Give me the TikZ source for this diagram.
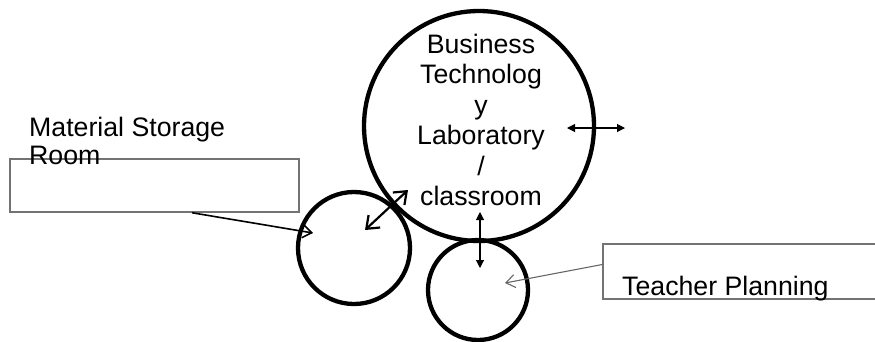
\documentclass[tikz,border=0pt]{standalone}
\usepackage{fontspec}
\setmainfont{Liberation Sans}
\usetikzlibrary{arrows.meta}

\begin{document}
\begin{tikzpicture}[x=1pt,y=-1pt,
  room/.style={circle,draw=black,line width=4.3pt,inner sep=0pt},
  roombox/.style={rectangle,draw=black!55,line width=1.5pt,inner sep=0pt},
  words/.style={inner sep=0pt,font=\fontsize{26.7}{30.5}\selectfont},
  link/.style={line width=1.1pt,{Triangle[length=8pt,width=8pt]}-{Triangle[length=8pt,width=8pt]}},
  door/.style={line width=2.2pt,{Straight Barb[length=11pt,width=17pt]}-{Straight Barb[length=11pt,width=17pt]}},
  pointer/.style={line width=1.6pt,-{Straight Barb[length=9pt,width=13pt]}}]

\clip (0,0) rectangle (875,341);

\node[room,minimum size=230pt](lab) at (479,126) {};
\node[room,minimum size=112pt](store) at (354,248) {};
\node[room,minimum size=100pt](plan) at (478,290) {};

\node[words,align=center](labtext) at (481,120) {Business\\Technolog\\y\\Laboratory\\/\\classroom};

\node[roombox,minimum width=289pt,minimum height=53pt](storebox) at (154.5,185.5) {};
\node[words,align=left,anchor=north west,font=\fontsize{26.7}{27.5}\selectfont](storetext) at (29,117) {Material Storage\\Room};

\node[roombox,minimum width=277pt,minimum height=55pt](planbox) at (741.5,271.5) {};
\node[words,anchor=base west](plantext) at (622,295) {Teacher Planning};

\coordinate (labE) at (567,128);
\coordinate (eastend) at (625,128);
\coordinate (labSW) at (408,190);
\coordinate (storeNE) at (365,230);
\coordinate (labS) at (480,212);
\coordinate (planN) at (480,268);
\coordinate (storeW) at (313,233);
\coordinate (planE) at (505,283);

\draw[link] (labE) -- (eastend);
\draw[link] (labS) -- (planN);
\draw[door] (storeNE) -- (labSW);

\draw[pointer] ([xshift=37.5pt]storebox.south) -- (storeW);
\draw[pointer,draw=black!60,line width=1.1pt] ([yshift=7pt]planbox.west) -- (planE);

\end{tikzpicture}
\end{document}
